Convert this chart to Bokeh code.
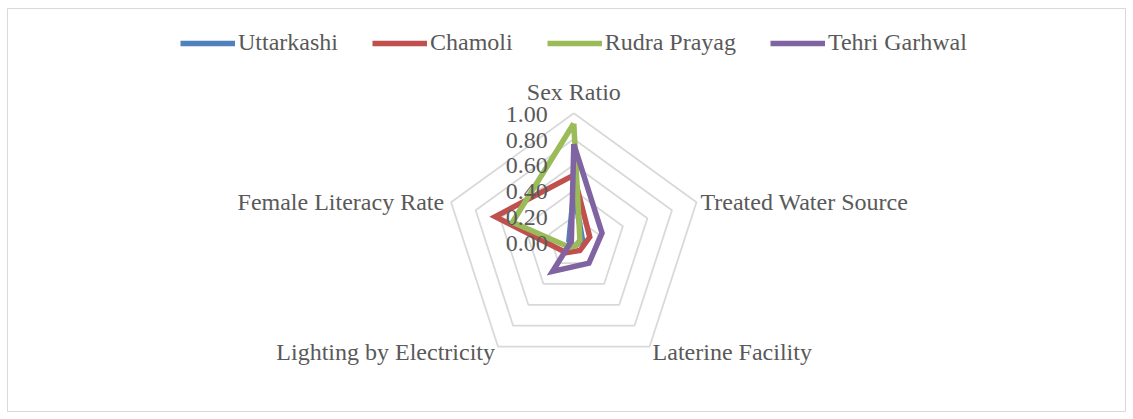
import numpy as np
from bokeh.plotting import figure
from bokeh.models import Range1d, Legend, LegendItem
from bokeh.core.properties import value
from bokeh.embed import file_html
from bokeh.resources import INLINE

# ---- data ----
categories = ["Sex Ratio", "Treated Water Source", "Laterine Facility",
              "Lighting by Electricity", "Female Literacy Rate"]
series_names = ["Uttarkashi", "Chamoli", "Rudra Prayag", "Tehri Garhwal"]
uttarkashi = [0.40, 0.07, 0.03, 0.03, 0.04]
chamoli = [0.52, 0.13, 0.08, 0.10, 0.64]
rudra_prayag = [0.92, 0.05, 0.03, 0.05, 0.50]
tehri_garhwal = [0.76, 0.23, 0.20, 0.28, 0.02]
tick_values = [0.0, 0.2, 0.4, 0.6, 0.8, 1.0]
tick_labels = ["0.00", "0.20", "0.40", "0.60", "0.80", "1.00"]

series_values = [uttarkashi, chamoli, rudra_prayag, tehri_garhwal]
colors = ["#4F81BD", "#C0504D", "#9BBB59", "#8064A2"]

# ---- layout ----
FW, FH = 1118, 403          # frame size
BL, BT, BR, BB = 7, 8, 1, 1  # borders
R_PX = 129.0
CX, CY = 566.3, 233.7        # radar centre in frame pixels (from top-left)

n = len(categories)
angles = np.pi / 2 - np.arange(n) * 2 * np.pi / n

p = figure(width=FW + BL + BR, height=FH + BT + BB, output_backend="svg",
           toolbar_location=None,
           x_range=Range1d(-CX / R_PX, (FW - CX) / R_PX),
           y_range=Range1d(-(FH - CY) / R_PX, CY / R_PX),
           x_axis_location=None, y_axis_location=None,
           min_border_left=BL, min_border_top=BT,
           min_border_right=BR, min_border_bottom=BB)
p.grid.visible = False
p.outline_line_color = "#d9d9d9"
p.outline_line_width = 1
p.background_fill_color = "white"
p.border_fill_color = "white"

# grid pentagons
for t in tick_values[1:]:
    xs = list(t * np.cos(angles)) + [t * np.cos(angles[0])]
    ys = list(t * np.sin(angles)) + [t * np.sin(angles[0])]
    p.line(xs, ys, line_color="#d9d9d9", line_width=1.8)

# series
items = []
for name, vals, c in zip(series_names, series_values, colors):
    v = np.array(vals)
    xs = list(v * np.cos(angles)) + [v[0] * np.cos(angles[0])]
    ys = list(v * np.sin(angles)) + [v[0] * np.sin(angles[0])]
    r = p.line(xs, ys, line_color=c, line_width=5.5, line_join="miter")
    items.append(LegendItem(label=name, renderers=[r]))

legend = Legend(items=items, orientation="horizontal", location=(173, 355),
                glyph_width=55, glyph_height=20, label_standoff=3, spacing=34,
                padding=0, margin=0, border_line_color=None,
                background_fill_alpha=0,
                label_text_font="Liberation Serif", label_text_font_size="24px",
                label_text_color="#595959")
p.add_layout(legend)

FONT = value("Liberation Serif")

# tick labels
p.text(x=[0] * len(tick_values), y=tick_values, text=tick_labels,
       text_font=FONT, text_font_size="24px", text_color="#595959",
       text_align="right", text_baseline="middle", x_offset=-26, y_offset=1)

# category labels
aligns = ["center", "left", "left", "right", "right"]
baselines = ["alphabetic", "middle", "middle", "middle", "middle"]
xoffs = [0, 4, 3, -3, -7]
yoffs = [-21, 0, 5, 5, 0]
for i, cat in enumerate(categories):
    p.text(x=[np.cos(angles[i])], y=[np.sin(angles[i])], text=[cat],
           text_font=FONT, text_font_size="24px", text_color="#595959",
           text_align=aligns[i], text_baseline=baselines[i],
           x_offset=xoffs[i], y_offset=yoffs[i])

open("out.html", "w").write(file_html(p, INLINE))
